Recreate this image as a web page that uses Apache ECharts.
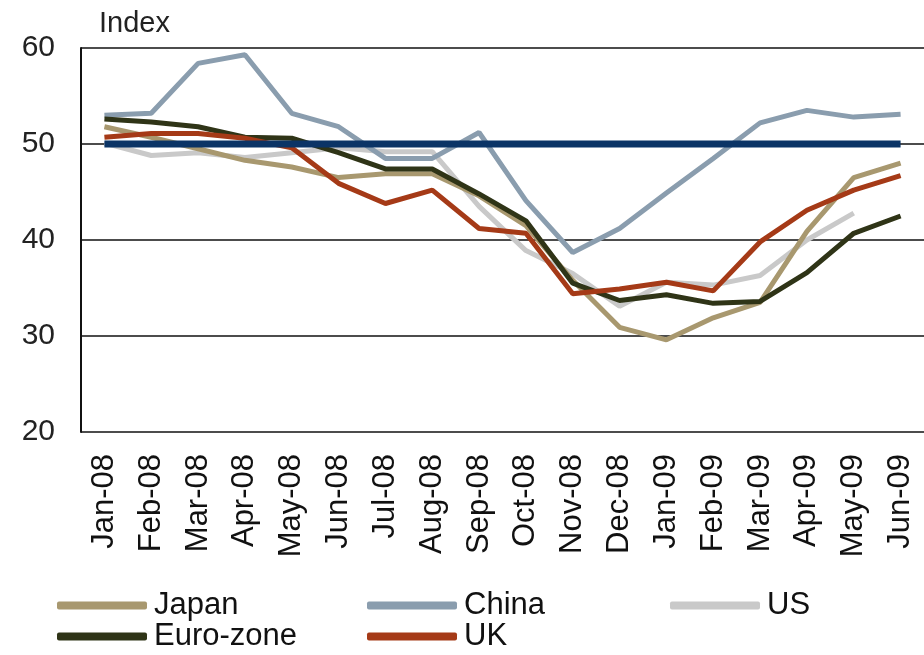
<!DOCTYPE html>
<html>
<head>
<meta charset="utf-8">
<script src="https://cdn.jsdelivr.net/npm/echarts@6/dist/echarts.min.js"></script>
<style>
html,body{margin:0;padding:0;background:#fff;}
#c{width:924px;height:655px;}
</style>
</head>
<body>
<div id="c"></div>
<script>
const categories = ['Jan-08','Feb-08','Mar-08','Apr-08','May-08','Jun-08','Jul-08','Aug-08','Sep-08','Oct-08','Nov-08','Dec-08','Jan-09','Feb-09','Mar-09','Apr-09','May-09','Jun-09'];
const japan = [51.8,50.7,49.5,48.3,47.6,46.5,46.9,46.9,44.6,41.5,35.8,30.9,29.6,31.9,33.5,40.9,46.5,48.0];
const china = [53.0,53.2,58.4,59.3,53.2,51.8,48.5,48.5,51.2,44.1,38.7,41.2,44.9,48.5,52.2,53.5,52.8,53.1];
const us = [50.1,48.8,49.1,48.6,49.1,49.6,49.2,49.2,43.5,38.9,36.5,33.1,35.6,35.3,36.3,40.0,42.8,null];
const euro = [52.6,52.3,51.8,50.7,50.6,49.1,47.4,47.4,44.8,42.0,35.5,33.7,34.3,33.4,33.6,36.6,40.7,42.5];
const uk = [50.7,51.1,51.1,50.6,49.6,45.9,43.8,45.2,41.2,40.7,34.4,34.9,35.6,34.7,39.8,43.1,45.2,46.7];
const fifty = [50,50,50,50,50,50,50,50,50,50,50,50,50,50,50,50,50,50];
const yTicks = {min:20, max:60, interval:10};

const FONT = '"Liberation Sans", Arial, sans-serif';
const colors = {Japan:'#a8986f', China:'#8a9dae', US:'#c9c9c9', 'Euro-zone':'#2f3417', UK:'#a53a17'};

function line(name, data, z){
  return {name, type:'line', data, z, symbol:'none', smooth:false, connectNulls:false,
    lineStyle:{width:5, color:colors[name]}, itemStyle:{color:colors[name]}};
}
function legend(name, left, top){
  return {data:[name], left, top, padding:0, icon:'roundRect', itemWidth:90, itemHeight:8, itemGap:0,
    selectedMode:false, textStyle:{fontFamily:FONT, fontSize:31, color:'#111', padding:[0,0,0,2]}};
}

const chart = echarts.init(document.getElementById('c'), null, {renderer:'canvas'});
chart.setOption({
  animation:false,
  backgroundColor:'#fff',
  title:{text:'Index', left:94, top:4, textStyle:{fontFamily:FONT, fontSize:29, fontWeight:'normal', color:'#222'}},
  grid:{left:81, top:48, width:857, height:384, containLabel:false},
  legend:[
    legend('Japan',57,590),
    legend('China',367,590),
    legend('US',670,590),
    legend('Euro-zone',57,621),
    legend('UK',367,621)
  ],
  xAxis:{type:'category', data:categories, boundaryGap:true,
    axisLine:{show:false}, axisTick:{show:false},
    axisLabel:{rotate:90, interval:0, fontFamily:FONT, fontSize:31, color:'#111', margin:22}},
  yAxis:{type:'value', min:yTicks.min, max:yTicks.max, interval:yTicks.interval,
    axisLine:{show:true, lineStyle:{color:'#111', width:2}}, axisTick:{show:false},
    splitLine:{show:true, lineStyle:{color:'#111', width:1.6}},
    axisLabel:{fontFamily:FONT, fontSize:30, color:'#222', margin:26}},
  series:[
    line('US', us, 2),
    line('China', china, 3),
    line('Japan', japan, 4),
    line('Euro-zone', euro, 5),
    line('UK', uk, 6),
    {name:'50', type:'line', data:fifty, z:7, symbol:'none', lineStyle:{width:7, color:'#0b3466'}, itemStyle:{color:'#0b3466'}}
  ]
});
</script>
</body>
</html>
